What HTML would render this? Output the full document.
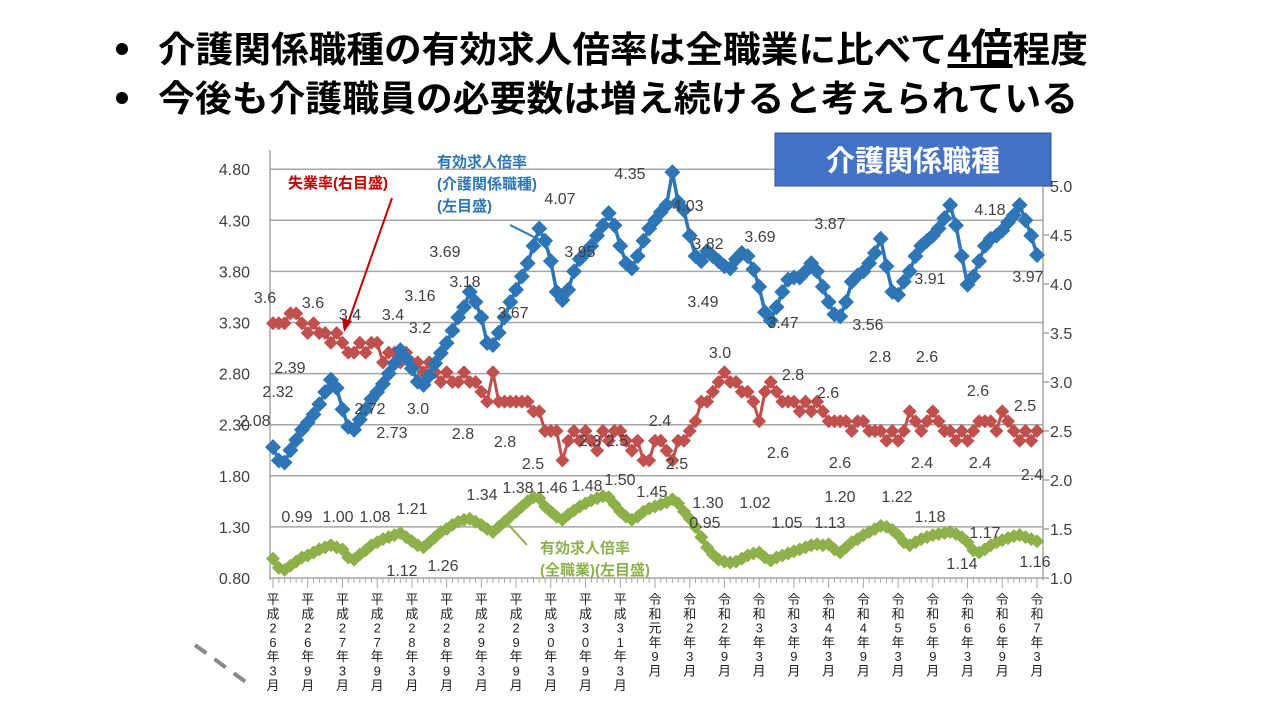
<!DOCTYPE html>
<html><head><meta charset="utf-8">
<style>
html,body{margin:0;padding:0;background:#fff;}
svg{display:block;font-family:"Liberation Sans","Noto Sans CJK JP",sans-serif;}
</style></head>
<body>
<svg id="chart" width="1280" height="720" viewBox="0 0 1280 720" xmlns="http://www.w3.org/2000/svg">
<rect width="1280" height="720" fill="#fff"/>
<g font-weight="bold" fill="#000">
 <circle cx="122" cy="49" r="6"/>
 <text x="158" y="62" font-size="36" textLength="930" lengthAdjust="spacingAndGlyphs">介護関係職種の有効求人倍率は全職業に比べて<tspan font-size="40" text-decoration="underline">4倍</tspan>程度</text>
 <circle cx="122" cy="98" r="6"/>
 <text x="158" y="111" font-size="36" textLength="920" lengthAdjust="spacingAndGlyphs">今後も介護職員の必要数は増え続けると考えられている</text>
</g>
<g id="grid"></g>
<g id="axes"></g>
<g id="series"></g>
<g id="labels" font-size="16" fill="#404040"></g>
<rect x="775" y="133" width="276" height="53" fill="#4472c4" stroke="#2f528f"/>
<text x="913" y="171" font-size="29" fill="#fff" text-anchor="middle" font-weight="bold">介護関係職種</text>
<line x1="195" y1="645" x2="250" y2="685" stroke="#888" stroke-width="4" stroke-dasharray="14,10"/>
</svg>
<script>
const careRatio = [
2.08,1.95,1.93,2.05,2.15,2.25,2.32,2.40,2.50,2.62,2.74,2.66,
2.45,2.28,2.25,2.35,2.45,2.55,2.62,2.70,2.80,2.90,3.03,2.95,
2.85,2.72,2.69,2.78,2.90,3.00,3.10,3.22,3.35,3.45,3.60,3.50,
3.35,3.10,3.08,3.20,3.35,3.50,3.62,3.75,3.88,4.05,4.22,4.10,
3.90,3.60,3.52,3.62,3.80,3.92,3.98,4.05,4.15,4.25,4.37,4.25,
4.05,3.88,3.83,3.95,4.10,4.22,4.30,4.38,4.45,4.77,4.48,4.40,
4.15,3.95,3.90,4.00,3.95,3.90,3.85,3.83,3.92,3.98,3.95,3.82,
3.65,3.40,3.32,3.45,3.60,3.72,3.74,3.74,3.80,3.88,3.80,3.65,
3.50,3.38,3.36,3.50,3.70,3.76,3.80,3.88,3.98,4.12,3.85,3.60,
3.57,3.70,3.80,3.95,4.05,4.10,4.15,4.22,4.32,4.45,4.25,3.95,
3.67,3.75,3.90,4.05,4.12,4.15,4.20,4.28,4.35,4.45,4.30,4.15,
3.96];
const unemployment = [
3.6,3.6,3.6,3.7,3.7,3.6,3.5,3.6,3.5,3.5,3.4,3.5,
3.4,3.3,3.3,3.4,3.3,3.4,3.4,3.2,3.3,3.3,3.2,3.3,
3.2,3.2,3.1,3.2,3.1,3.0,3.1,3.0,3.0,3.1,3.0,3.0,
2.9,2.8,3.1,2.8,2.8,2.8,2.8,2.8,2.8,2.7,2.7,2.5,
2.5,2.5,2.2,2.4,2.5,2.4,2.5,2.4,2.3,2.5,2.4,2.5,
2.5,2.4,2.3,2.4,2.2,2.2,2.4,2.4,2.3,2.2,2.4,2.4,
2.5,2.6,2.8,2.8,2.9,3.0,3.1,3.0,3.0,2.9,2.9,2.8,
2.6,2.9,3.0,2.9,2.8,2.8,2.8,2.7,2.8,2.7,2.8,2.7,
2.6,2.6,2.6,2.6,2.5,2.6,2.6,2.5,2.5,2.5,2.4,2.5,
2.4,2.5,2.7,2.6,2.5,2.6,2.7,2.6,2.5,2.5,2.4,2.5,
2.4,2.5,2.6,2.6,2.6,2.5,2.7,2.6,2.5,2.4,2.5,2.4,
2.5];
const allRatio = [
0.99,0.90,0.88,0.92,0.96,1.00,1.02,1.05,1.08,1.10,1.12,1.10,
1.08,1.00,0.98,1.03,1.07,1.12,1.15,1.18,1.20,1.22,1.24,1.20,
1.16,1.12,1.10,1.15,1.20,1.25,1.28,1.32,1.35,1.37,1.38,1.35,
1.32,1.28,1.25,1.30,1.35,1.40,1.45,1.50,1.55,1.59,1.58,1.50,
1.45,1.40,1.37,1.42,1.46,1.50,1.53,1.56,1.58,1.60,1.59,1.52,
1.45,1.40,1.37,1.40,1.45,1.48,1.50,1.52,1.54,1.57,1.53,1.45,
1.38,1.30,1.20,1.10,1.03,0.98,0.96,0.95,0.96,0.99,1.02,1.04,
1.05,1.00,0.97,1.00,1.02,1.04,1.06,1.08,1.10,1.12,1.13,1.12,
1.13,1.08,1.05,1.10,1.15,1.18,1.22,1.25,1.28,1.31,1.30,1.27,
1.22,1.15,1.12,1.15,1.18,1.20,1.22,1.23,1.24,1.25,1.23,1.20,
1.15,1.07,1.05,1.08,1.12,1.15,1.17,1.19,1.21,1.22,1.20,1.18,
1.16];
const xLabels = ["平成26年3月","平成26年9月","平成27年3月","平成27年9月","平成28年3月","平成28年9月","平成29年3月","平成29年9月","平成30年3月","平成30年9月","平成31年3月","令和元年9月","令和2年3月","令和2年9月","令和3年3月","令和3年9月","令和4年3月","令和4年9月","令和5年3月","令和5年9月","令和6年3月","令和6年9月","令和7年3月"];
const leftTicks = ["0.80","1.30","1.80","2.30","2.80","3.30","3.80","4.30","4.80"];
const rightTicks = ["1.0","1.5","2.0","2.5","3.0","3.5","4.0","4.5","5.0"];
const annotations = [
["3.6",265,297],["3.6",313,302],["3.4",350,314],["3.4",393,314],["3.2",420,327],["3.16",420,295],["3.18",465,281],["3.69",445,251],["4.07",560,198],["3.95",580,251],["3.67",513,312],["2.39",290,367],["2.32",278,391],["2.08",255,420],["2.72",370,408],["3.0",418,408],["2.73",392,432],["2.8",463,433],["2.8",505,441],["2.5",533,463],["2.3",590,440],["2.5",617,440],["2.4",660,420],["2.5",677,463],["4.35",630,173],["4.03",688,205],["3.82",708,243],["3.69",760,236],["3.49",703,301],["3.47",783,322],["3.87",830,223],["3.56",868,324],["3.91",930,278],["4.18",990,209],["3.97",1028,276],["3.0",720,352],["2.8",793,374],["2.6",778,452],["2.6",828,392],["2.6",840,462],["2.8",880,356],["2.6",927,356],["2.4",922,462],["2.4",980,462],["2.6",978,390],["2.5",1025,405],["2.4",1032,474],
["0.99",297,516],["1.00",338,516],["1.08",375,516],["1.21",412,508],["1.12",402,570],["1.26",443,565],["1.34",482,494],["1.38",518,487],["1.46",552,487],["1.48",587,485],["1.50",620,479],["1.45",652,491],["1.30",708,502],["0.95",705,522],["1.02",755,502],["1.05",787,522],["1.13",830,522],["1.20",840,496],["1.22",897,496],["1.18",930,516],["1.17",985,532],["1.14",962,563],["1.16",1035,561]];

const NS="http://www.w3.org/2000/svg";
const X0=273, X1=1037, PL=270, PR=1043;
const xs = i => X0 + (X1-X0)*i/(careRatio.length-1);
const yL = v => 578 - (v-0.80)*102.2;
const yR = v => 578 - (v-1.0)*98;
function mk(tag, attrs, parent){const e=document.createElementNS(NS,tag);for(const k in attrs)e.setAttribute(k,attrs[k]);parent.appendChild(e);return e;}
const grid=document.getElementById('grid'), axes=document.getElementById('axes'), series=document.getElementById('series'), labels=document.getElementById('labels');

leftTicks.forEach(t=>{
  const y=yL(parseFloat(t));
  const l=mk('line',{x1:PL,x2:PR,y1:y,y2:y,stroke:'#a6a6a6','stroke-width':1.5},grid);
  
  
  const tx=mk('text',{x:250,y:y+6,'font-size':16,'text-anchor':'end',fill:'#404040'},axes);
  tx.textContent=t;
  
  
});
rightTicks.forEach(t=>{
  const y=yR(parseFloat(t));
  const l=mk('line',{x1:PR,x2:PR+6,y1:y,y2:y,stroke:'#a6a6a6','stroke-width':1.5},axes);
  
  
  const tx=mk('text',{x:1050,y:y+6,'font-size':16,fill:'#404040'},axes);
  tx.textContent=t;
  
  
});
let a=mk('line',{x1:PL,x2:PL,y1:150,y2:580,stroke:'#a6a6a6','stroke-width':1.5},axes);


a=mk('line',{x1:PR,x2:PR,y1:150,y2:580,stroke:'#a6a6a6','stroke-width':1.5},axes);


for(let i=0;i<careRatio.length;i++){
  const t=mk('line',{x1:xs(i),x2:xs(i),y1:578,y2:i%6===0?588:583,stroke:'#a6a6a6'},axes);
  
  
}
xLabels.forEach((s,k)=>{
  const x=xs(k*6);
  const g=mk('g',{},axes);
  
  
  [...s].forEach((ch,j)=>{
    const t=mk('text',{x:x,y:604+j*14.3,'font-size':13,'text-anchor':'middle',fill:'#222'},g);
    t.textContent=ch;
  });
});

function drawSeries(vals, yf, color, r, w, name){
  const g=mk('g',{},series);
  
  
  const p=mk('polyline',{points:vals.map((v,i)=>xs(i)+','+yf(v)).join(' '),fill:'none',stroke:color,'stroke-width':w},g);
  
  
  vals.forEach((v,i)=>{
    const x=xs(i), y=yf(v);
    const d=mk('polygon',{points:`${x},${y-r} ${x+r},${y} ${x},${y+r} ${x-r},${y}`,fill:color},g);
    
    
  });
}
drawSeries(allRatio, yL, '#8db04a', 7, 5, 'all-occupations-ratio');
drawSeries(unemployment, yR, '#c0504d', 7, 3, 'unemployment-rate');
drawSeries(careRatio, yL, '#2e75b6', 8, 3.5, 'care-ratio');

annotations.forEach(([s,x,y])=>{
  const t=mk('text',{x:x,y:y+6,'text-anchor':'middle'},labels);
  t.textContent=s;
  
  
});

function legendText(lines, x, y0, color, name){
  const g=mk('g',{'font-size':15,'font-weight':'bold',fill:color},labels);
  
  
  lines.forEach((s,j)=>{const t=mk('text',{x:x,y:y0+j*22},g);t.textContent=s;});
}
legendText(['失業率(右目盛)'],288,188,'#c00000','unemployment-legend');
legendText(['有効求人倍率','(介護関係職種)','(左目盛)'],437,167,'#2e75b6','care-ratio-legend');
legendText(['有効求人倍率','(全職業)(左目盛)'],540,553,'#8db04a','all-ratio-legend');
let ar=mk('line',{x1:392,y1:198,x2:347,y2:326,stroke:'#c00000','stroke-width':2},labels);


ar=mk('polygon',{points:'344,332 342,318 352,321',fill:'#c00000'},labels);


ar=mk('line',{x1:510,y1:225,x2:550,y2:245,stroke:'#2e75b6','stroke-width':2},labels);


ar=mk('line',{x1:527,y1:545,x2:506,y2:522,stroke:'#8db04a','stroke-width':2},labels);


</script>
</body></html>
